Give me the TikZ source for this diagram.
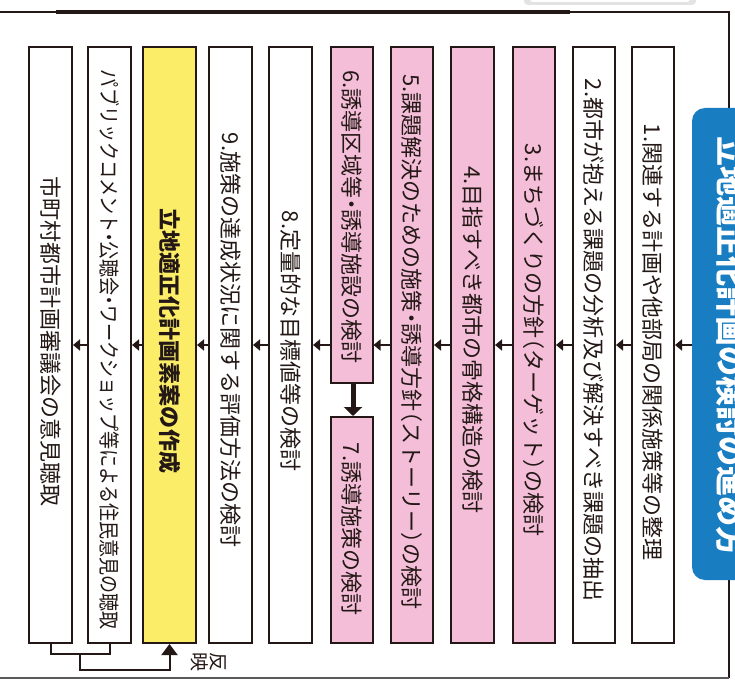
\documentclass[tikz,border=0pt]{standalone}
\usepackage{fontspec}
\usepackage{graphicx}
\newfontfamily\jp[RawFeature=+halt]{Noto Sans CJK JP}
\usetikzlibrary{arrows.meta,calc}
\definecolor{dk}{HTML}{231815}
\definecolor{pk}{HTML}{F4BED8}
\definecolor{yl}{HTML}{FBED68}
\definecolor{bl}{HTML}{187EC1}
\tikzset{
  boxw/.style={draw=dk, line width=2pt, fill=white, inner sep=0pt, minimum width=42pt, minimum height=596pt},
  boxp/.style={boxw, fill=pk},
  txt/.style={rotate=-90, font=\jp\fontsize{22}{22}\selectfont, text=dk, inner sep=0pt},
  nxt/.style={draw=dk, line width=2.6pt, -{Triangle[length=7pt,width=11pt]}},
  fb/.style={draw=dk, line width=2pt},
}
\begin{document}
\begin{tikzpicture}[x=1pt,y=-1pt]
\useasboundingbox (0,0) rectangle (735,684);
\clip (0,0) rectangle (735,684);
\fill[white] (0,0) rectangle (735,684);
% frame
\fill[gray!22, rounded corners=4pt] (524,-10) rectangle (696,5);
\fill[white, rounded corners=3pt] (530,-10) rectangle (690,2);
\draw[dk, line width=1.3pt] (0,12) -- (729,12) -- (729,678);
\draw[dk, line width=3.2pt] (56,12) -- (570,12);
\draw[gray!70!black, line width=1.3pt] (0,678) -- (729,678);
% title
\node[fill=bl, rounded corners=13pt, minimum width=70pt, minimum height=472pt, inner sep=0pt] (title) at (727,344) {};
\node[rotate=-90, font=\jp\bfseries\fontsize{30}{30}\selectfont, text=white, inner sep=0pt] (tt) at (731,347) {立地適正化計画の検討の進め方};
% boxes
\node[boxw] (b1) at (653,345) {};
\node[boxw] (b2) at (594,345) {};
\node[boxp] (b3) at (534,345) {};
\node[boxp, minimum width=43pt] (b4) at (472.5,345) {};
\node[boxp] (b5) at (412,345) {};
\node[boxp, minimum height=336pt] (b6) at (351.5,215) {};
\node[boxp, minimum height=226pt] (b7) at (351.5,530) {};
\node[boxw, minimum width=43pt] (b8) at (290.5,345) {};
\node[boxw, minimum width=43pt] (b9) at (230.5,345) {};
\node[boxw, fill=yl, minimum width=53pt] (yel) at (169.5,345) {};
\node[boxw, minimum width=43pt] (pub) at (109.5,345) {};
\node[boxw, minimum width=43pt] (city) at (50.5,345) {};
% texts
\node[txt] (t1) at (653,342) {1.関連する計画や他部局の関係施策等の整理};
\node[txt] (t2) at (594,340) {2.都市が抱える課題の分析及び解決すべき課題の抽出};
\node[txt] (t3) at (534,340) {3.まちづくりの方針（ターゲット）の検討};
\node[txt] (t4) at (472.5,340) {4.目指すべき都市の骨格構造の検討};
\node[txt] (t5) at (412,342) {5.課題解決のための施策・誘導方針（ストーリー）の検討};
\node[txt] (t6) at (351.5,217) {6.誘導区域等・誘導施設の検討};
\node[txt] (t7) at (351.5,529) {7.誘導施策の検討};
\node[txt] (t8) at (290.5,341) {8.定量的な目標値等の検討};
\node[txt] (t9) at (230.5,340) {9.施策の達成状況に関する評価方法の検討};
\node[txt, font=\jp\bfseries\fontsize{22}{22}\selectfont] (ty) at (169.5,341) {立地適正化計画素案の作成};
\node[txt, font=\jp\fontsize{21}{21}\selectfont] (tp) at (109.5,350) {\resizebox{560pt}{\height}{パブリックコメント・公聴会・ワークショップ等による住民意見の聴取}};
\node[txt] (tc) at (50.5,342) {市町村都市計画審議会の意見聴取};
% arrows
\draw[nxt] (b1.east -| title.west) -- (b1.east);
\draw[nxt] (b1.west) -- (b2.east);
\draw[nxt] (b2.west) -- (b3.east);
\draw[nxt] (b3.west) -- (b4.east);
\draw[nxt] (b4.west) -- (b5.east);
\draw[nxt] (b5.west) -- (b5.west -| b6.east);
\draw[nxt] (b8.east -| b6.west) -- (b8.east);
\draw[nxt] (b8.west) -- (b9.east);
\draw[nxt] (b9.west) -- (yel.east);
\draw[nxt] (yel.west) -- (pub.east);
\draw[nxt] (pub.west) -- (city.east);
\draw[draw=dk, line width=5pt, -{Triangle[length=9pt,width=18pt]}] (b6.south -| 353,0) -- (b7.north -| 353,0);
% feedback
\draw[fb] (city.south) -- ++(0,10) -| (pub.south);
\coordinate (j) at (80,653);
\draw[fb, -{Triangle[length=11pt,width=16pt]}] (j) -- ++(0,17) -| (yel.south);
\node[rotate=-90, align=center, font=\jp\fontsize{19}{19}\selectfont, text=dk, inner sep=0pt] (fl) at (209,662) {反\\映};
\end{tikzpicture}
\end{document}
